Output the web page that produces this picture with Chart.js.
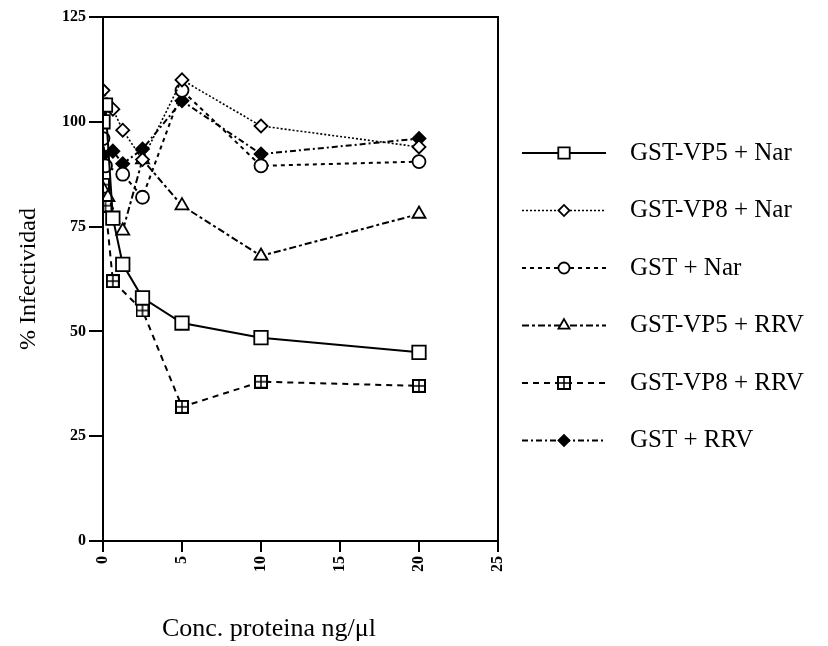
<!DOCTYPE html>
<html>
<head>
<meta charset="utf-8">
<script src="https://cdn.jsdelivr.net/npm/chart.js"></script>
<style>
  body { margin: 0; background: #fff; }
</style>
</head>
<body>
<canvas id="infectividad" width="828" height="646"></canvas>
<script>
// datos (conc. en ng/ul, % infectividad)
const vp5NarX = [0, 0.156, 0.625, 1.25, 2.5, 5, 10, 20]
const vp5NarY = [100, 104, 77, 66, 58, 52, 48.5, 45]

const vp8NarX = [0, 0.625, 1.25, 2.5, 5, 10, 20]
const vp8NarY = [107.5, 103, 98, 91, 110, 99, 94]

const gstNarX = [0, 0.156, 1.25, 2.5, 5, 10, 20]
const gstNarY = [96, 89.5, 87.5, 82, 107.5, 89.5, 90.5]

const vp5RrvX = [0, 0.3125, 1.25, 2.5, 5, 10, 20]
const vp5RrvY = [84, 82, 74, 91, 80, 68, 78]

const vp8RrvX = [0, 0.156, 0.625, 2.5, 5, 10, 20]
const vp8RrvY = [85, 80, 62, 55, 32, 38, 37]

const gstRrvX = [0, 0.625, 1.25, 2.5, 5, 10, 20]
const gstRrvY = [92, 93, 90, 93.5, 105, 92.3, 96]

const etiquetas = ['GST-VP5 + Nar', 'GST-VP8 + Nar', 'GST + Nar', 'GST-VP5 + RRV', 'GST-VP8 + RRV', 'GST + RRV']
const yTicks = [0, 25, 50, 75, 100, 125]
const xTicks = [0, 5, 10, 15, 20, 25]
const tituloX = 'Conc. proteina ng/\u03BCl'

const serif = '"Liberation Serif", "Times New Roman", serif'

function puntos(xs, ys) {
  return xs.map((x, i) => { return { x: x, y: ys[i] } })
}

// cuadrado con cruz para GST-VP8 + RRV
function cuadradoCruz() {
  const c = document.createElement('canvas')
  c.width = 14
  c.height = 14
  const g = c.getContext('2d')
  g.fillStyle = '#fff'
  g.fillRect(1, 1, 12, 12)
  g.strokeStyle = '#000'
  g.lineWidth = 2
  g.strokeRect(1, 1, 12, 12)
  g.lineWidth = 1.5
  g.beginPath()
  g.moveTo(7, 1); g.lineTo(7, 13)
  g.moveTo(1, 7); g.lineTo(13, 7)
  g.stroke()
  return c
}
const cruz = cuadradoCruz()

function serie(i, xs, ys, dash, width, style, radius, fill) {
  return {
    label: etiquetas[i],
    data: puntos(xs, ys),
    borderColor: '#000',
    backgroundColor: fill,
    borderWidth: width,
    borderDash: dash,
    pointStyle: style,
    pointRadius: radius,
    pointBackgroundColor: fill,
    pointBorderColor: '#000',
    pointBorderWidth: 1.8,
    tension: 0
  }
}

const datasets = [
  serie(0, vp5NarX, vp5NarY, [], 2, 'rect', 9.5, '#fff'),
  serie(1, vp8NarX, vp8NarY, [2, 2], 1.6, 'rectRot', 6.5, '#fff'),
  serie(2, gstNarX, gstNarY, [4, 4], 2, 'circle', 6.5, '#fff'),
  serie(3, vp5RrvX, vp5RrvY, [7, 3, 3, 3], 2, 'triangle', 7.5, '#fff'),
  serie(4, vp8RrvX, vp8RrvY, [6, 5], 2, cruz, 7, '#fff'),
  serie(5, gstRrvX, gstRrvY, [6, 3, 2, 3], 2, 'rectRot', 6.5, '#000')
]

// marco superior y derecho
const marco = {
  id: 'marco',
  afterDraw(chart) {
    const a = chart.chartArea
    const ctx = chart.ctx
    ctx.save()
    ctx.strokeStyle = '#000'
    ctx.lineWidth = 2
    ctx.strokeRect(a.left, a.top, a.right - a.left, a.bottom - a.top)
    ctx.restore()
  }
}

// titulo del eje x, algo a la izquierda del centro como en el original
const tituloEjeX = {
  id: 'tituloEjeX',
  afterDraw(chart) {
    const a = chart.chartArea
    const ctx = chart.ctx
    ctx.save()
    ctx.fillStyle = '#000'
    ctx.font = '26px ' + serif
    ctx.textAlign = 'center'
    ctx.textBaseline = 'middle'
    ctx.fillText(tituloX, a.left + (a.right - a.left) * 0.42, 629)
    ctx.restore()
  }
}

// leyenda a la derecha: linea + marcador + texto
const leyenda = {
  id: 'leyenda',
  afterDraw(chart) {
    const ctx = chart.ctx
    const x0 = chart.chartArea.right + 24
    chart.data.datasets.forEach((ds, i) => {
      const y = 153 + i * 57.5
      ctx.save()
      ctx.strokeStyle = '#000'
      ctx.lineWidth = ds.borderWidth
      ctx.setLineDash(ds.borderDash)
      ctx.beginPath()
      ctx.moveTo(x0, y)
      ctx.lineTo(x0 + 84, y)
      ctx.stroke()
      ctx.setLineDash([])
      ctx.fillStyle = ds.pointBackgroundColor
      ctx.strokeStyle = '#000'
      ctx.lineWidth = ds.pointBorderWidth
      Chart.helpers.drawPoint(ctx, {
        pointStyle: ds.pointStyle,
        radius: ds.pointRadius * 0.85,
        rotation: 0,
        borderWidth: ds.pointBorderWidth
      }, x0 + 42, y)
      ctx.fillStyle = '#000'
      ctx.font = '25px ' + serif
      ctx.textBaseline = 'middle'
      ctx.textAlign = 'left'
      ctx.fillText(ds.label, x0 + 108, y)
      ctx.restore()
    })
  }
}

const chart = new Chart(document.getElementById('infectividad'), {
  type: 'line',
  data: { datasets: datasets },
  plugins: [marco, tituloEjeX, leyenda],
  options: {
    responsive: false,
    animation: false,
    layout: { padding: { left: 10, top: 17, right: 330, bottom: 0 } },
    plugins: {
      legend: { display: false },
      tooltip: { enabled: false }
    },
    scales: {
      x: {
        type: 'linear',
        min: 0,
        max: 25,
        afterBuildTicks(scale) { scale.ticks = xTicks.map(v => ({ value: v })) },
        afterFit(scale) { scale.height = 105 },
        ticks: {
          color: '#000',
          minRotation: 90,
          maxRotation: 90,
          padding: 4,
          font: { family: serif, size: 16, weight: 'bold' }
        },
        grid: { drawOnChartArea: false, tickLength: 11, color: '#000', lineWidth: 2 },
        border: { color: '#000', width: 2 }
      },
      y: {
        min: 0,
        max: 125,
        afterBuildTicks(scale) { scale.ticks = yTicks.map(v => ({ value: v })) },
        afterFit(scale) { scale.width = 93 },
        ticks: {
          color: '#000',
          padding: 3,
          font: { family: serif, size: 16, weight: 'bold' }
        },
        grid: { drawOnChartArea: false, tickLength: 14, color: '#000', lineWidth: 2 },
        border: { color: '#000', width: 2 },
        title: {
          display: true,
          text: '% Infectividad',
          color: '#000',
          font: { family: serif, size: 24 },
          padding: { top: 4, bottom: 0 }
        }
      }
    }
  }
})
</script>
</body>
</html>
